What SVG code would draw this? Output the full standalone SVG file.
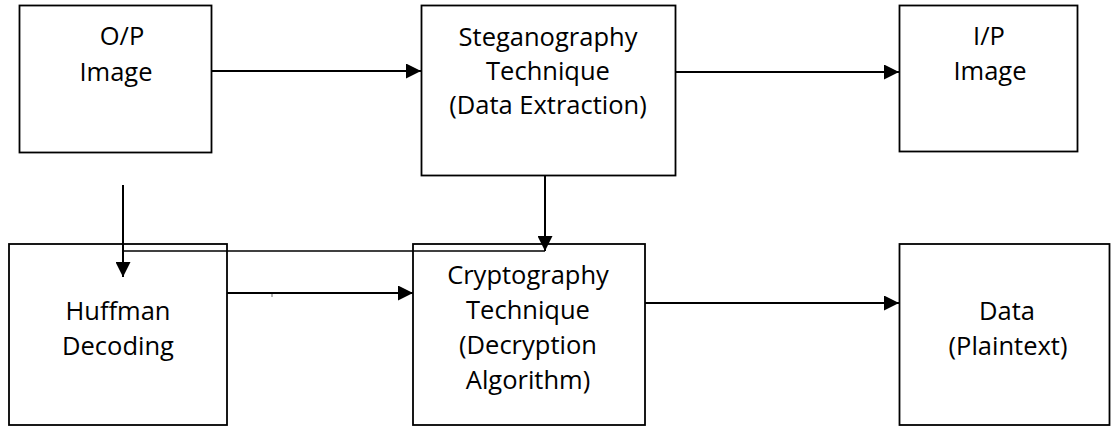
<svg xmlns="http://www.w3.org/2000/svg" width="1113" height="427" viewBox="0 0 1113 427">
<style>
.box{fill:#fff;stroke:#000;stroke-width:1.8}
.lbl{font-family:"Open Sans","Noto Sans",sans-serif;font-size:25.5px;fill:#000;text-anchor:middle}
.con{stroke:#000;stroke-width:2;fill:none}
.thin{stroke:#000;stroke-width:1.5;fill:none}
</style>
<defs>
<marker id="ah" markerWidth="15" markerHeight="15" refX="15" refY="7.5" orient="auto" markerUnits="userSpaceOnUse">
<path d="M0,0 L15,7.5 L0,15 Z" fill="#000"/>
</marker>
</defs>
<rect width="1113" height="427" fill="#fff"/>
<g id="n-op">
<rect class="box" x="19.5" y="5.5" width="192" height="147"/>
<text class="lbl" x="122" y="45">O/P</text>
<text class="lbl" x="116" y="81">Image</text>
</g>
<g id="n-steg">
<rect class="box" x="421.5" y="5.5" width="254" height="170"/>
<text class="lbl" x="548" y="46">Steganography</text>
<text class="lbl" x="548" y="80">Technique</text>
<text class="lbl" x="548" y="114">(Data Extraction)</text>
</g>
<g id="n-ip">
<rect class="box" x="899.5" y="5.5" width="178" height="146"/>
<text class="lbl" x="989" y="45">I/P</text>
<text class="lbl" x="990" y="80">Image</text>
</g>
<g id="n-huff">
<rect class="box" x="9" y="244" width="218" height="181"/>
<text class="lbl" x="118" y="320">Huffman</text>
<text class="lbl" x="118" y="355">Decoding</text>
</g>
<g id="n-crypto">
<rect class="box" x="413" y="244" width="232" height="181"/>
<text class="lbl" x="528" y="284">Cryptography</text>
<text class="lbl" x="528" y="319">Technique</text>
<text class="lbl" x="528" y="354">(Decryption</text>
<text class="lbl" x="528" y="389">Algorithm)</text>
</g>
<g id="n-data">
<rect class="box" x="899.5" y="244" width="210" height="181"/>
<text class="lbl" x="1007" y="320">Data</text>
<text class="lbl" x="1008" y="355">(Plaintext)</text>
</g>
<g id="connectors">
<line class="con" x1="212" y1="71" x2="421" y2="71" marker-end="url(#ah)"/>
<line class="con" x1="676" y1="72" x2="899" y2="72" marker-end="url(#ah)"/>
<line class="con" x1="545" y1="176" x2="545" y2="251" marker-end="url(#ah)"/>
<line class="thin" x1="123" y1="251" x2="545" y2="251"/>
<line class="con" x1="123" y1="185" x2="123" y2="277" marker-end="url(#ah)"/>
<line class="con" x1="227" y1="293" x2="413" y2="293" marker-end="url(#ah)"/>
<line x1="272" y1="294" x2="272" y2="297" stroke="#666" stroke-width="1"/>
<line class="con" x1="645" y1="303" x2="899" y2="303" marker-end="url(#ah)"/>
</g>
</svg>
